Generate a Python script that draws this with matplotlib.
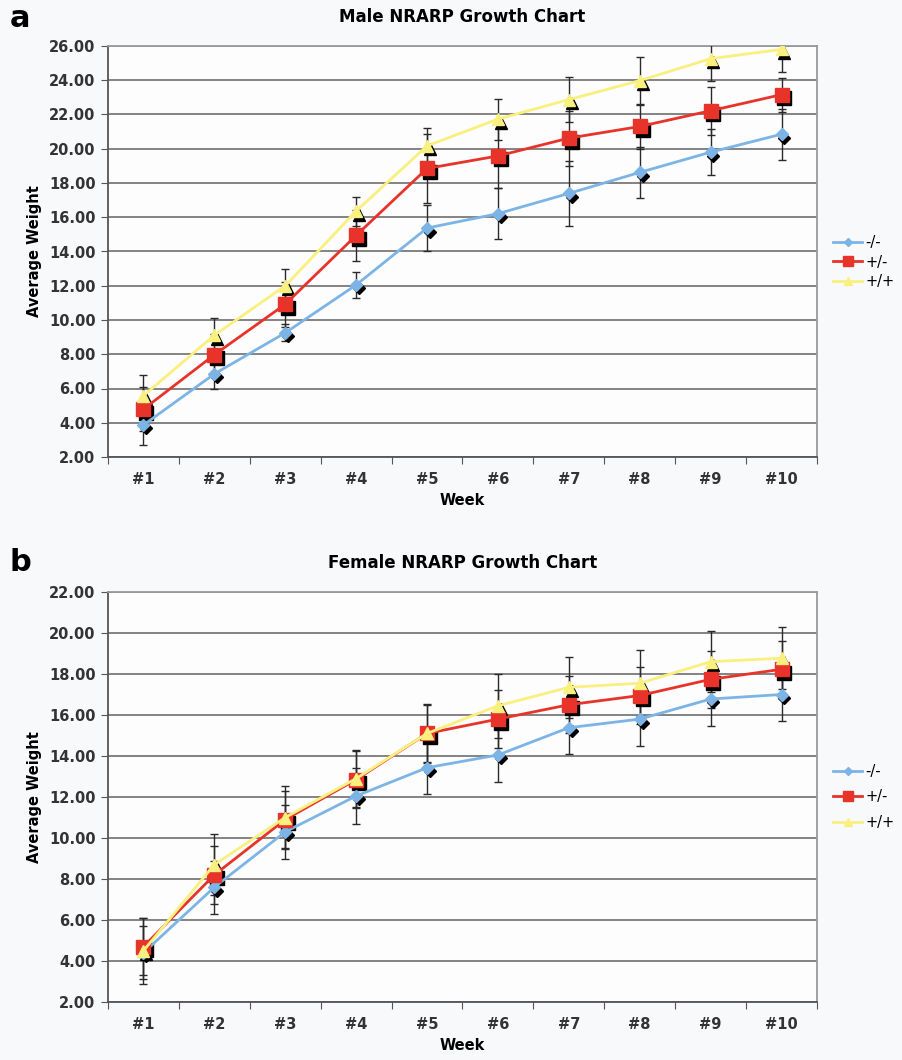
import matplotlib.pyplot as plt
import matplotlib.transforms as mtransforms
from matplotlib.ticker import FixedLocator, NullFormatter, FixedFormatter

weeks = ['#1', '#2', '#3', '#4', '#5', '#6', '#7', '#8', '#9', '#10']
genotypes = ['-/-', '+/-', '+/+']

# Male weights and error bars
male_ko = [3.87, 6.85, 9.25, 12.05, 15.37, 16.21, 17.39, 18.62, 19.80, 20.85]
male_het = [4.79, 7.97, 10.92, 14.94, 18.85, 19.58, 20.62, 21.30, 22.22, 23.16]
male_wt = [5.58, 9.11, 12.00, 16.36, 20.17, 21.73, 22.87, 23.98, 25.26, 25.80]
male_ko_err = [1.15, 0.85, 0.50, 0.75, 1.35, 1.50, 1.90, 1.50, 1.35, 1.50]
male_het_err = [1.30, 1.20, 1.30, 1.50, 2.00, 1.90, 1.60, 1.30, 1.40, 1.00]
male_wt_err = [1.20, 1.00, 1.00, 0.85, 1.05, 1.20, 1.30, 1.40, 1.30, 1.30]

# Female weights and error bars
female_ko = [4.40, 7.60, 10.30, 12.05, 13.43, 14.05, 15.38, 15.80, 16.78, 17.00]
female_het = [4.70, 8.20, 10.90, 12.85, 15.10, 15.80, 16.50, 16.95, 17.74, 18.23]
female_wt = [4.50, 8.70, 11.00, 12.90, 15.10, 16.45, 17.35, 17.55, 18.60, 18.77]
female_ko_err = [1.30, 1.30, 1.30, 1.35, 1.30, 1.30, 1.30, 1.30, 1.30, 1.30]
female_het_err = [1.40, 1.40, 1.40, 1.40, 1.40, 1.40, 1.40, 1.40, 1.40, 1.40]
female_wt_err = [1.60, 1.50, 1.55, 1.40, 1.45, 1.55, 1.50, 1.60, 1.50, 1.50]

colors = ['#7db4e6', '#e8332b', '#f9f07f']
markers = ['D', 's', '^']
msizes = [6, 9.5, 8.5]

fig = plt.figure(figsize=(9.03, 10.6), dpi=100, facecolor='#f8f9fb')


def draw_chart(ax, title, series, errs, ymin, ymax):
    x = list(range(1, len(weeks) + 1))
    shadow = mtransforms.offset_copy(ax.transData, fig=fig, x=2, y=-2.5, units='points')
    lines = []
    for vals, err in zip(series, errs):
        ax.errorbar(x, vals, yerr=err, fmt='none', ecolor='#2a2a2a', elinewidth=1.0,
                    capsize=3, capthick=1.0, zorder=3)
    for vals, mk, ms in zip(series, markers, msizes):
        ax.plot(x, vals, linestyle='none', marker=mk, markersize=ms, color='black',
                transform=shadow, zorder=4)
    for vals, c, mk, ms, lab in zip(series, colors, markers, msizes, genotypes):
        ln, = ax.plot(x, vals, color=c, linewidth=2.0, marker=mk, markersize=ms,
                      markeredgecolor=c, label=lab, zorder=5)
        lines.append(ln)

    ax.set_xlim(0.5, len(weeks) + 0.5)
    ax.set_ylim(ymin, ymax)
    ax.set_facecolor('#fdfdfe')
    ax.set_yticks(range(ymin, ymax + 1, 2))
    ax.set_yticklabels([f'{v:.2f}' for v in range(ymin, ymax + 1, 2)])
    ax.yaxis.grid(True, color='#7a7a7a', linewidth=1.3)
    ax.set_axisbelow(True)

    ax.xaxis.set_major_locator(FixedLocator([i + 0.5 for i in range(len(weeks) + 1)]))
    ax.xaxis.set_major_formatter(NullFormatter())
    ax.xaxis.set_minor_locator(FixedLocator(x))
    ax.xaxis.set_minor_formatter(FixedFormatter(weeks))
    ax.tick_params(axis='x', which='major', length=5, color='#555555')
    ax.tick_params(axis='x', which='minor', length=0, pad=11)
    ax.tick_params(axis='y', length=5, color='#555555', pad=4)
    for lab in ax.get_xticklabels(minor=True) + ax.get_yticklabels():
        lab.set_fontsize(10.5)
        lab.set_fontweight('bold')
        lab.set_color('#333333')

    for side in ['left', 'bottom']:
        ax.spines[side].set_color('#555555')
        ax.spines[side].set_linewidth(1.3)
    for side in ['top', 'right']:
        ax.spines[side].set_color('#9a9a9a')
        ax.spines[side].set_linewidth(1.3)

    ax.set_title(title, fontsize=12, fontweight='bold', pad=17)
    ax.set_xlabel('Week', fontsize=10.5, fontweight='bold', labelpad=4)
    ax.set_ylabel('Average Weight', fontsize=10.5, fontweight='bold', labelpad=5)
    return lines


ax1 = fig.add_axes([108 / 903, 1 - 457 / 1060, 709 / 903, 411 / 1060])
lines1 = draw_chart(ax1, 'Male NRARP Growth Chart',
                    [male_ko, male_het, male_wt],
                    [male_ko_err, male_het_err, male_wt_err], 2, 26)

ax2 = fig.add_axes([108 / 903, 1 - 1002 / 1060, 709 / 903, 410 / 1060])
lines2 = draw_chart(ax2, 'Female NRARP Growth Chart',
                    [female_ko, female_het, female_wt],
                    [female_ko_err, female_het_err, female_wt_err], 2, 22)

for lines, ycen, spacing in [(lines1, 262, 0.3), (lines2, 797, 0.7)]:
    fig.legend(handles=lines, labels=genotypes, loc='center left',
               bbox_to_anchor=(820 / 903, 1 - ycen / 1060), frameon=False,
               fontsize=10.5, handlelength=2.0, handletextpad=0.2,
               labelspacing=spacing, markerscale=0.75)

fig.text(10 / 903, 1 - 4 / 1060, 'a', fontsize=22, fontweight='bold', va='top')
fig.text(10 / 903, 1 - 548 / 1060, 'b', fontsize=22, fontweight='bold', va='top')

fig.savefig('out.png', dpi=100, facecolor=fig.get_facecolor())
